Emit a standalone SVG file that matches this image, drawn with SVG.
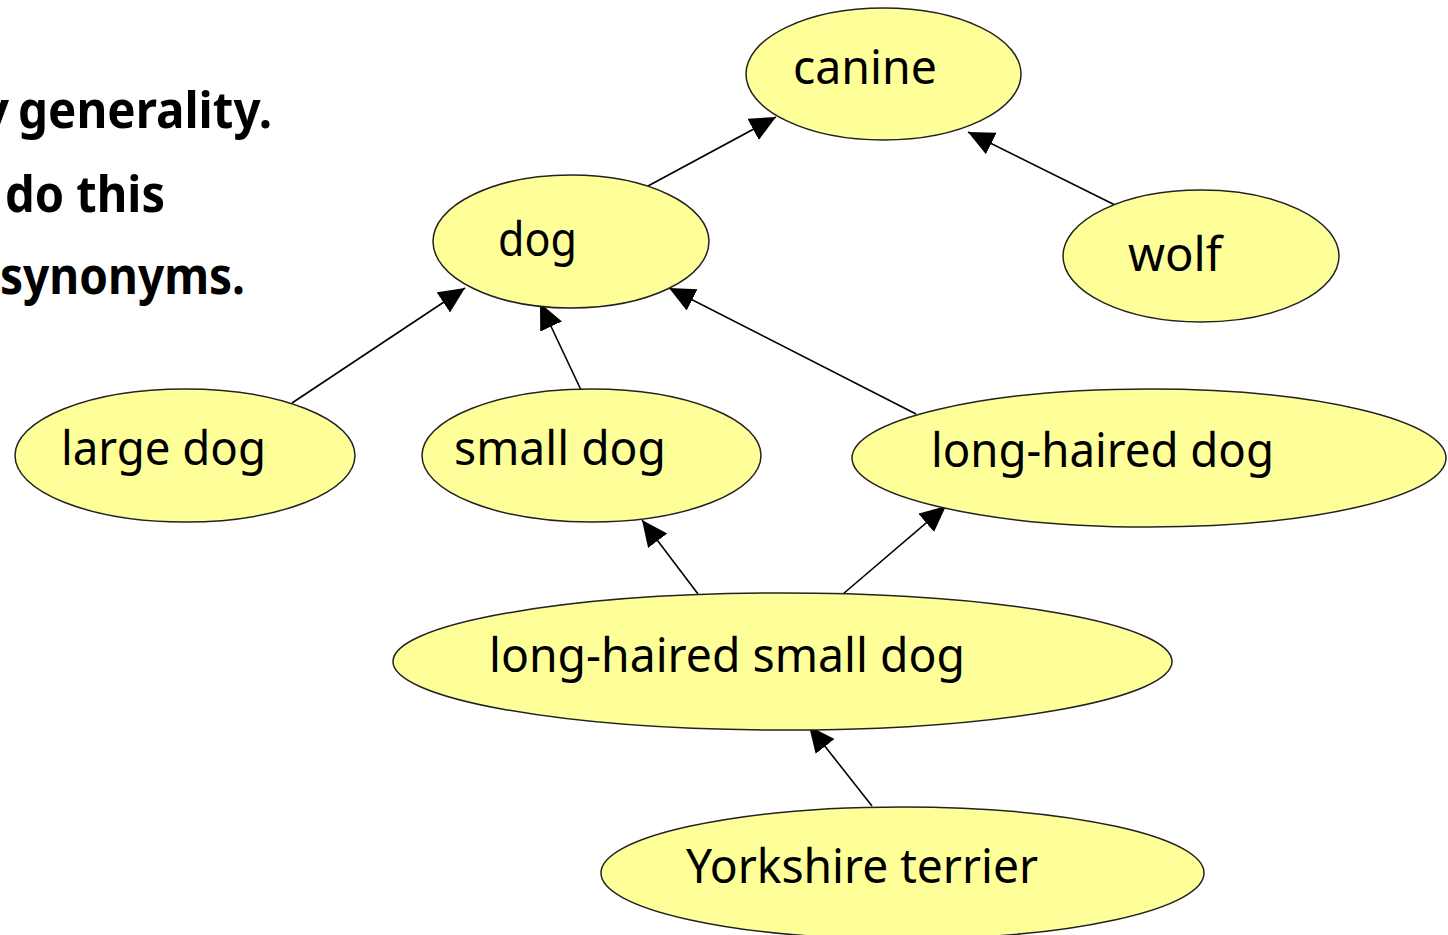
<svg xmlns="http://www.w3.org/2000/svg" width="1448" height="935" viewBox="0 0 1448 935">
<style>
.n ellipse{fill:#ffff99;stroke:#222;stroke-width:1.5}
.n text{font-family:"Noto Sans","Open Sans",sans-serif;font-size:48px;fill:#000}
.e line{stroke:#000;stroke-width:1.6;marker-end:url(#ah)}
.t{font-family:"Noto Sans","Open Sans",sans-serif;font-weight:bold;font-size:50px;fill:#000}
</style>
<defs>
<marker id="ah" markerUnits="userSpaceOnUse" markerWidth="28" markerHeight="26" refX="26" refY="12" orient="auto">
<path d="M0,0 L26,12 L0,24 z" fill="#000"/>
</marker>
</defs>
<rect width="1448" height="935" fill="#fff"/>
<g id="caption">
<text class="t" x="9" y="128" text-anchor="end">y</text>
<text class="t" x="18" y="128" textLength="254" lengthAdjust="spacingAndGlyphs">generality.</text>
<text class="t" x="5" y="212" textLength="160" lengthAdjust="spacingAndGlyphs">do this</text>
<text class="t" x="0" y="294" textLength="245" lengthAdjust="spacingAndGlyphs">synonyms.</text>
</g>
<g id="connectors" class="e">
<line x1="648" y1="186" x2="776" y2="117"/>
<line x1="1115" y1="205" x2="968" y2="132"/>
<line x1="292" y1="403" x2="465" y2="288"/>
<line x1="581" y1="390" x2="540" y2="303"/>
<line x1="916" y1="414" x2="669" y2="288"/>
<line x1="698" y1="594" x2="642" y2="520"/>
<line x1="843" y1="594" x2="946" y2="506"/>
<line x1="872" y1="806" x2="809" y2="726"/>
</g>
<g id="canine" class="n"><ellipse cx="883.5" cy="74" rx="137.5" ry="66"/><text x="793" y="84" textLength="144" lengthAdjust="spacingAndGlyphs">canine</text></g>
<g id="dog" class="n"><ellipse cx="571" cy="241.5" rx="138" ry="66.5"/><text x="498" y="256" textLength="79" lengthAdjust="spacingAndGlyphs">dog</text></g>
<g id="wolf" class="n"><ellipse cx="1201" cy="256" rx="138" ry="66"/><text x="1128" y="271" textLength="94" lengthAdjust="spacingAndGlyphs">wolf</text></g>
<g id="large-dog" class="n"><ellipse cx="185" cy="455.5" rx="170" ry="66.5"/><text x="61" y="465" textLength="205" lengthAdjust="spacingAndGlyphs">large dog</text></g>
<g id="small-dog" class="n"><ellipse cx="591.5" cy="455.5" rx="169.5" ry="66.5"/><text x="454" y="465" textLength="212" lengthAdjust="spacingAndGlyphs">small dog</text></g>
<g id="long-haired-dog" class="n"><ellipse cx="1149" cy="458" rx="297" ry="69"/><text x="931" y="467" textLength="343" lengthAdjust="spacingAndGlyphs" fill="#333">long-haired dog</text></g>
<g id="long-haired-small-dog" class="n"><ellipse cx="782.5" cy="661.5" rx="389.5" ry="68.5"/><text x="489" y="672" textLength="476" lengthAdjust="spacingAndGlyphs">long-haired small dog</text></g>
<g id="yorkshire-terrier" class="n"><ellipse cx="902.5" cy="873" rx="301.5" ry="66"/><text x="686" y="883" textLength="352" lengthAdjust="spacingAndGlyphs">Yorkshire terrier</text></g>
</svg>
